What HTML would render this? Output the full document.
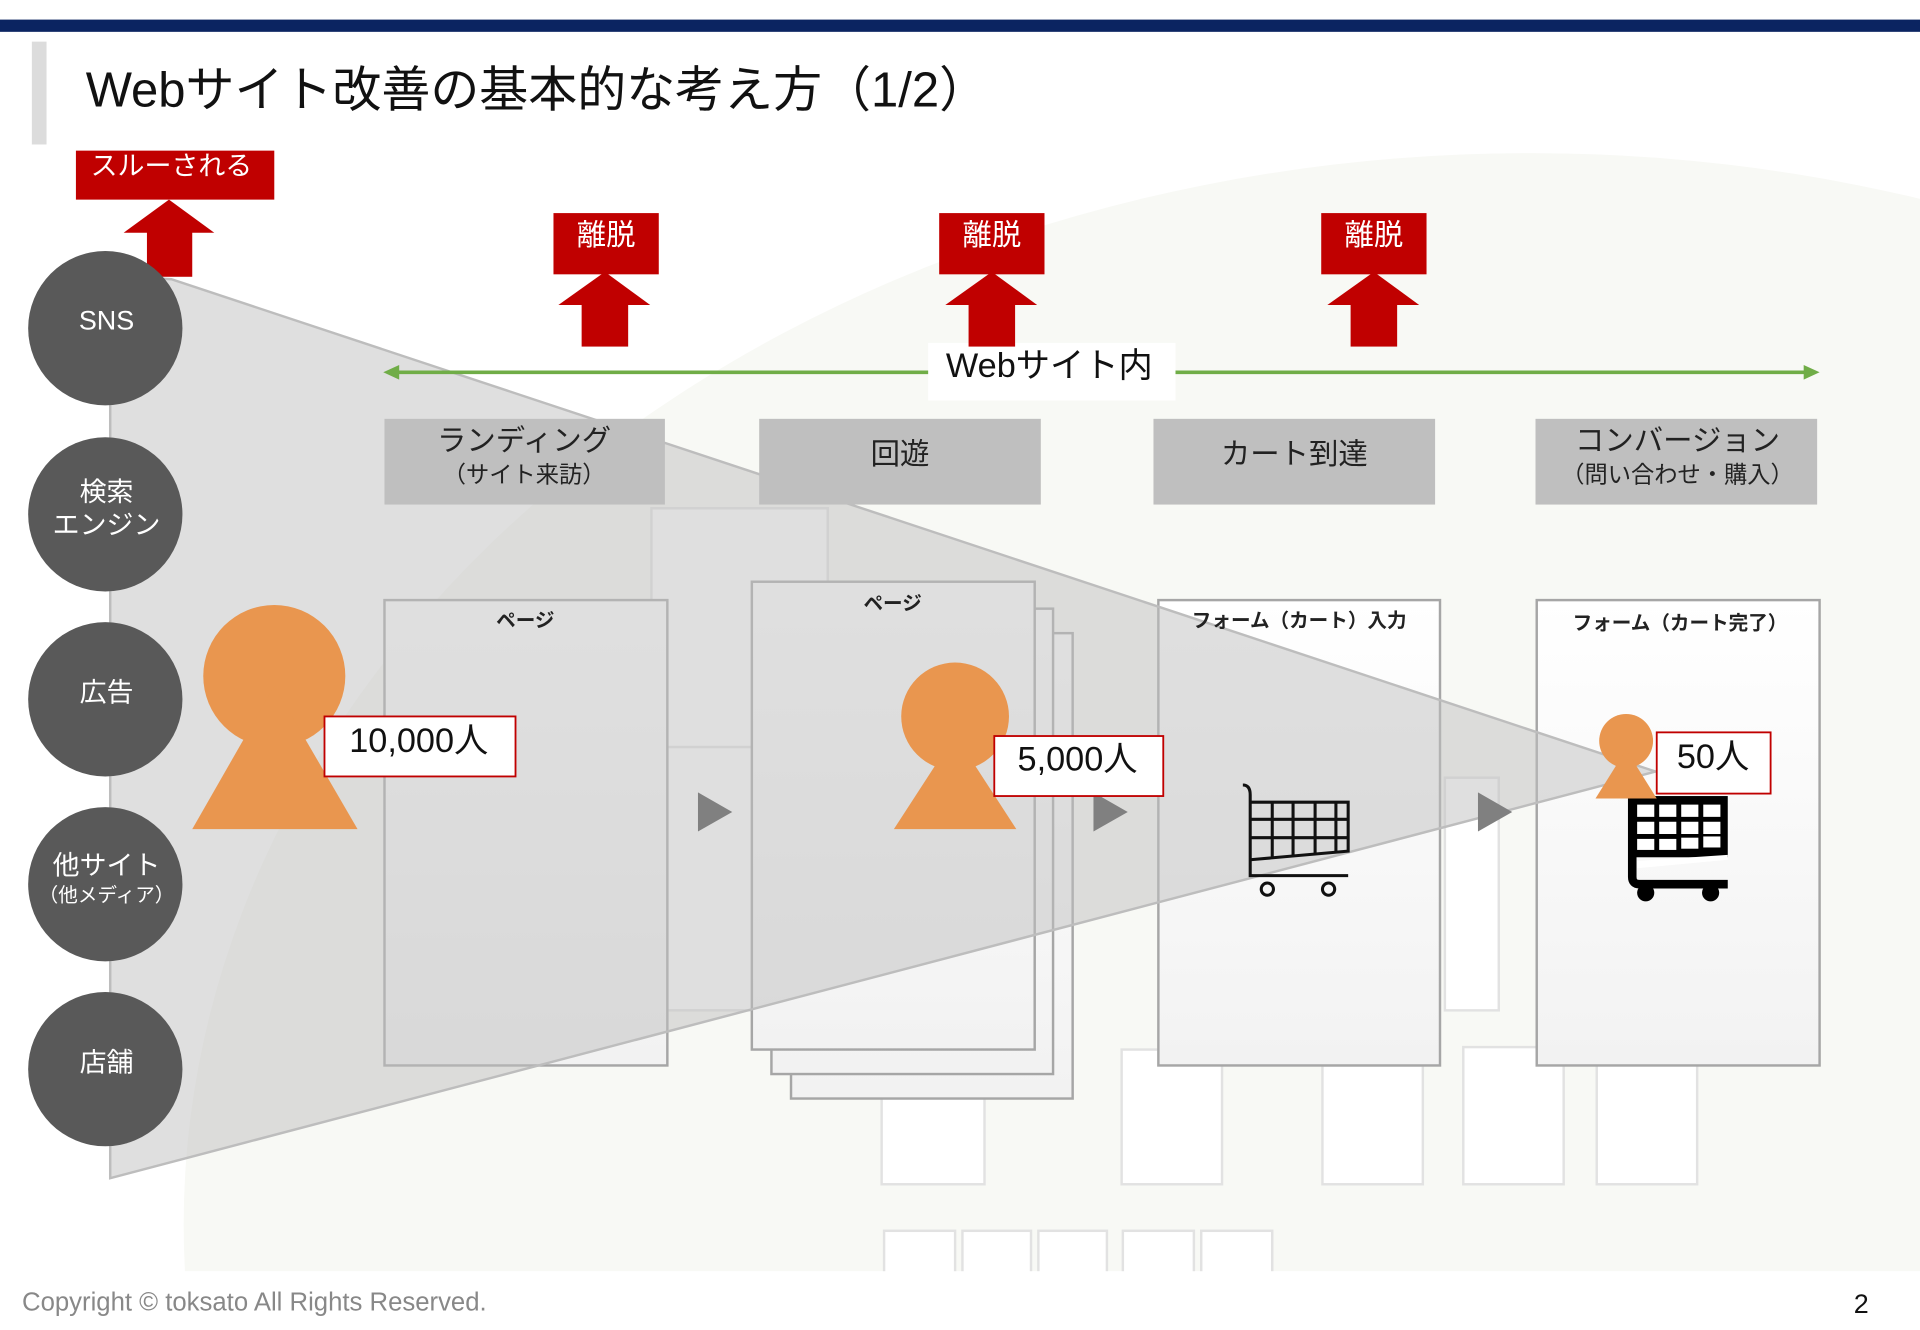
<!DOCTYPE html>
<html><head><meta charset="utf-8"><style>
html,body{margin:0;padding:0;background:#fff;width:1920px;height:1330px;overflow:hidden;}
svg{display:block}
text{font-family:"Liberation Sans","Noto Sans CJK JP",sans-serif;}
</style></head><body>
<svg width="1920" height="1330" viewBox="0 0 1568 1086" preserveAspectRatio="none" xmlns="http://www.w3.org/2000/svg">
<defs>
<linearGradient id="pg" x1="0" y1="0" x2="0" y2="1"><stop offset="0" stop-color="#ffffff"/><stop offset="1" stop-color="#f2f2f2"/></linearGradient>
<clipPath id="cl"><rect x="0" y="0" width="1568" height="1038"/></clipPath>
</defs>
<rect width="1568" height="1086" fill="#fff"/>
<ellipse cx="1250" cy="1000" rx="1100" ry="875" fill="#f8f9f5" clip-path="url(#cl)"/>
<rect x="0" y="16" width="1568" height="10" fill="#0b2461"/>
<rect x="26" y="34" width="12" height="84" fill="#dcdcdc"/>
<text x="70" y="87" font-size="40" fill="#111">Webサイト改善の基本的な考え方（1/2）</text>

<!-- faint background boxes -->
<g fill="#fff" stroke="#e2e2e2" stroke-width="2">
<rect x="532" y="415" width="144" height="220"/>
<rect x="545" y="610" width="70" height="215"/>
<rect x="1180" y="635" width="44" height="190"/>
<rect x="720" y="895" width="84" height="72"/>
<rect x="916" y="857" width="82" height="110"/>
<rect x="1080" y="870" width="82" height="97"/>
<rect x="1195" y="855" width="82" height="112"/>
<rect x="1304" y="868" width="82" height="99"/>
<rect x="722" y="1005" width="58" height="40"/><rect x="786" y="1005" width="56" height="40"/><rect x="848" y="1005" width="56" height="40"/><rect x="917" y="1005" width="58" height="40"/><rect x="981" y="1005" width="58" height="40"/>
</g>
<rect x="0" y="1038" width="1568" height="48" fill="#fff"/>

<!-- page boxes -->
<g stroke="#a6a6a6" stroke-width="2" fill="url(#pg)">
<rect x="314" y="490" width="231" height="380"/>
<rect x="646" y="517" width="230" height="380"/>
<rect x="630" y="497" width="230" height="380"/>
<rect x="614" y="475" width="231" height="382"/>
<rect x="946" y="490" width="230" height="380"/>
<rect x="1255" y="490" width="231" height="380"/>
</g>

<!-- funnel -->
<polygon points="90,225 140,228 1352,630 90,962" fill="#c0c0c0" fill-opacity="0.5" stroke="#bdbdbd" stroke-width="2"/>

<g font-size="16" font-weight="bold" fill="#222" text-anchor="middle">
<text x="429" y="512">ページ</text>
<text x="729" y="498">ページ</text>
<text x="1061" y="512">フォーム（カート）入力</text>
<text x="1372" y="514">フォーム（カート完了）</text>
</g>

<!-- header boxes -->
<g fill="#bfbfbf">
<rect x="314" y="342" width="229" height="70"/><rect x="620" y="342" width="230" height="70"/>
<rect x="942" y="342" width="230" height="70"/><rect x="1254" y="342" width="230" height="70"/>
</g>
<g fill="#222" text-anchor="middle">
<text x="428" y="368" font-size="24">ランディング</text><text x="428" y="394" font-size="19">（サイト来訪）</text>
<text x="735" y="379" font-size="24">回遊</text>
<text x="1057" y="379" font-size="24">カート到達</text>
<text x="1370" y="368" font-size="24">コンバージョン</text><text x="1370" y="394" font-size="19">（問い合わせ・購入）</text>
</g>

<!-- green line -->
<line x1="318" y1="304" x2="1480" y2="304" stroke="#70ad47" stroke-width="3"/>
<polygon points="313,304 326,298 326,310" fill="#70ad47"/>
<polygon points="1486,304 1473,298 1473,310" fill="#70ad47"/>
<rect x="758" y="280" width="202" height="47" fill="#fff"/>
<text x="857" y="308" font-size="28" text-anchor="middle" fill="#111">Webサイト内</text>

<!-- red arrows -->
<g fill="#c00000">
<rect x="62" y="123" width="162" height="40"/>
<polygon points="101,190 175,190 138,163"/><rect x="120" y="189" width="37" height="37"/>
<rect x="452" y="174" width="86" height="50"/><polygon points="456,249 531,249 494,222"/><rect x="475" y="248" width="38" height="35"/>
<rect x="767" y="174" width="86" height="50"/><polygon points="772,249 847,249 810,222"/><rect x="791" y="248" width="38" height="35"/>
<rect x="1079" y="174" width="86" height="50"/><polygon points="1084,249 1159,249 1122,222"/><rect x="1103" y="248" width="38" height="35"/>
</g>
<g fill="#fff" text-anchor="middle" font-size="24">
<text x="140" y="143" font-size="22">スルーされる</text>
<text x="495" y="200">離脱</text><text x="810" y="200">離脱</text><text x="1122" y="200">離脱</text>
</g>

<!-- left circles -->
<g fill="#595959">
<circle cx="86" cy="268" r="63"/><circle cx="86" cy="420" r="63"/><circle cx="86" cy="571" r="63"/><circle cx="86" cy="722" r="63"/><circle cx="86" cy="873" r="63"/>
</g>
<g fill="#fff" text-anchor="middle" font-size="22">
<text x="87" y="269">SNS</text>
<text x="87" y="409">検索</text><text x="87" y="436">エンジン</text>
<text x="87" y="573">広告</text>
<text x="87" y="714">他サイト</text><text x="87" y="736" font-size="16">（他メディア）</text>
<text x="87" y="875">店舗</text>
</g>

<!-- play triangles -->
<g fill="#808080">
<polygon points="570,647 598,663 570,679"/><polygon points="893,647 921,663 893,679"/><polygon points="1207,647 1235,663 1207,679"/>
</g>

<!-- carts -->
<g fill="none" stroke="#111" stroke-width="2.5">
<path d="M1015,641 q6,0 6,8 v66 h80"/>
<path d="M1021,655 h80 v40 l-80,7"/>
<path d="M1021,669 h80 M1021,684 h80 M1039,655 v45 M1056,655 v44 M1074,655 v42 M1091,655 v40"/>
<circle cx="1035" cy="726" r="5"/><circle cx="1085" cy="726" r="5"/>
</g>
<g>
<rect x="1330" y="650" width="81" height="50" fill="#000"/>
<path d="M1333,650 v66 q0,6 6,6 h72" fill="none" stroke="#000" stroke-width="7"/>
<g fill="#fff"><rect x="1337" y="657" width="14" height="10"/><rect x="1355" y="657" width="14" height="10"/><rect x="1373" y="657" width="14" height="10"/><rect x="1391" y="657" width="14" height="10"/>
<rect x="1337" y="671" width="14" height="10"/><rect x="1355" y="671" width="14" height="10"/><rect x="1373" y="671" width="14" height="10"/><rect x="1391" y="671" width="14" height="10"/>
<rect x="1337" y="685" width="14" height="9"/><rect x="1355" y="685" width="14" height="9"/><rect x="1373" y="684" width="14" height="9"/><rect x="1391" y="683" width="14" height="9"/>
<polygon points="1337,703 1411,698 1411,702 1337,709"/></g>
<circle cx="1344" cy="729" r="7" fill="#000"/><circle cx="1397" cy="729" r="7" fill="#000"/>
</g>

<!-- persons -->
<g fill="#e9964f">
<circle cx="224" cy="552" r="58"/><polygon points="157,677 292,677 224,560"/>
<circle cx="780" cy="585" r="44"/><polygon points="730,677 830,677 780,600"/>
<circle cx="1328" cy="605" r="22"/><polygon points="1303,652 1353,652 1328,612"/>
</g>
<g fill="#fff" stroke="#c00000" stroke-width="1.5">
<rect x="265" y="585" width="156" height="49"/><rect x="812" y="601" width="138" height="49"/><rect x="1353" y="598" width="93" height="50"/>
</g>
<g font-size="28" fill="#111" text-anchor="middle">
<text x="342" y="614">10,000人</text><text x="880" y="629">5,000人</text><text x="1399" y="627">50人</text>
</g>

<text x="18" y="1070" font-size="21" fill="#888">Copyright © toksato All Rights Reserved.</text>
<text x="1520" y="1072" font-size="22" fill="#111" text-anchor="middle">2</text>
</svg>
</body></html>
